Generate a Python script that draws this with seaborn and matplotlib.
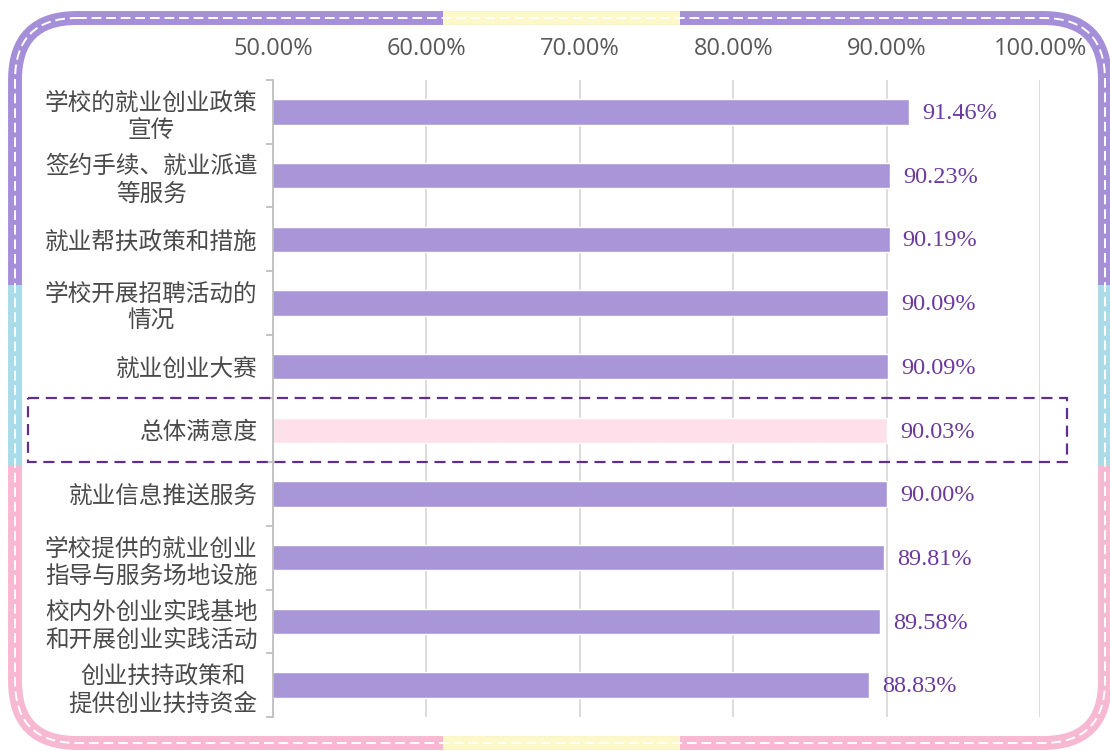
import matplotlib
matplotlib.use("Agg")
import matplotlib.pyplot as plt
import seaborn as sns
import pandas as pd
from matplotlib.patches import FancyBboxPatch, Rectangle
from matplotlib.transforms import blended_transform_factory
from matplotlib.ticker import FuncFormatter

# Satisfaction scores (%) per employment-service item
categories = [
    "学校的就业创业政策\n宣传",
    "签约手续、就业派遣\n等服务",
    "就业帮扶政策和措施",
    "学校开展招聘活动的\n情况",
    "就业创业大赛",
    "总体满意度",
    "就业信息推送服务",
    "学校提供的就业创业\n指导与服务场地设施",
    "校内外创业实践基地\n和开展创业实践活动",
    "创业扶持政策和\n提供创业扶持资金",
]
values = [91.46, 90.23, 90.19, 90.09, 90.09, 90.03, 90.00, 89.81, 89.58, 88.83]
highlight = "总体满意度"
x_ticks = [50, 60, 70, 80, 90, 100]

BAR = "#a996d9"
BAR_HL = "#fde0ea"
VALUE_TXT = "#6a3a9c"
FRAME_PURPLE = "#a68fd9"
FRAME_CYAN = "#a9dbe8"
FRAME_PINK = "#f7b8d2"
FRAME_YELLOW = "#fdf8c9"

sns.set_theme(style="white")
plt.rcParams["font.family"] = ["Noto Sans CJK SC", "DejaVu Sans"]

W, H = 1110, 751
fig = plt.figure(figsize=(W / 100, H / 100), dpi=100, facecolor="white")

# ---- decorative rounded frame (pixel coordinates) ----
bg = fig.add_axes([0, 0, 1, 1], zorder=0)
bg.set_xlim(0, W)
bg.set_ylim(H, 0)
bg.axis("off")


def frame(color, clip=None, lw=10, ls="-"):
    p = FancyBboxPatch((15, 18), 1090, 725,
                       boxstyle="round,pad=0,rounding_size=62",
                       fill=False, edgecolor=color, lw=lw, linestyle=ls)
    bg.add_patch(p)
    if clip is not None:
        x0, y0, x1, y1 = clip
        r = Rectangle((x0, y0), x1 - x0, y1 - y0, transform=bg.transData)
        p.set_clip_path(r)
    return p


frame(FRAME_PURPLE, (0, 0, W, 285))
frame(FRAME_CYAN, (0, 285, W, 465))
frame(FRAME_PINK, (0, 465, W, H))
frame(FRAME_YELLOW, (443, 0, 680, H))
frame("white", None, lw=1.4, ls=(0, (5, 2.5)))

# ---- bar chart ----
ax = fig.add_axes([273 / W, 1 - 717 / H, 767 / W, 637 / H], zorder=1)
ax.set_facecolor("none")

df = pd.DataFrame({"item": categories, "score": values})
palette = {c: (BAR_HL if c == highlight else BAR) for c in categories}
sns.barplot(data=df, x="score", y="item", hue="item", palette=palette,
            legend=False, width=0.4, saturation=1, orient="h", ax=ax)

for i, v in enumerate(values):
    ax.annotate(f"{v:.2f}%", xy=(v, i), xytext=(9.5, -1.2),
                textcoords="offset points", ha="left", va="center",
                fontfamily="Liberation Serif", fontsize=17.5, color=VALUE_TXT)

ax.set_xlim(50, 100)
ax.set_ylim(9.5, -0.5)
ax.set_xlabel("")
ax.set_ylabel("")

ax.xaxis.tick_top()
ax.set_xticks(x_ticks)
ax.xaxis.set_major_formatter(FuncFormatter(lambda v, _: f"{v:.2f}%"))
ax.tick_params(axis="x", length=0, pad=14, labelsize=17, labelcolor="#595959")
for lbl in ax.get_xticklabels():
    lbl.set_fontfamily("Open Sans")

ax.grid(True, axis="x", color="#d9d9d9", lw=1.3)
ax.grid(False, axis="y")
ax.set_axisbelow(True)

for s in ("top", "right", "bottom"):
    ax.spines[s].set_visible(False)
ax.spines["left"].set_color("#bfbfbf")
ax.spines["left"].set_linewidth(1.3)

ax.set_yticks(range(len(categories)))
ax.set_yticklabels(categories)
ax.set_yticks([i - 0.5 for i in range(len(categories) + 1)], minor=True)
ax.tick_params(axis="y", which="major", length=0, pad=11, labelsize=17,
               labelcolor="#4a4a4a")
ax.tick_params(axis="y", which="minor", left=True, length=5, width=1.3,
               color="#bfbfbf")
for lbl in ax.get_yticklabels():
    lbl.set_multialignment("center")
    lbl.set_linespacing(1.25)

# dashed box around the overall-satisfaction row
idx = categories.index(highlight)
trans = blended_transform_factory(fig.transFigure, ax.transData)
fig.add_artist(Rectangle((28 / W, idx - 0.5), (1067 - 28) / W, 1.0,
                         transform=trans, fill=False, edgecolor="#5e2f8f",
                         lw=1.6, linestyle=(0, (5, 3)), zorder=5))

fig.savefig("out.png", dpi=100)
